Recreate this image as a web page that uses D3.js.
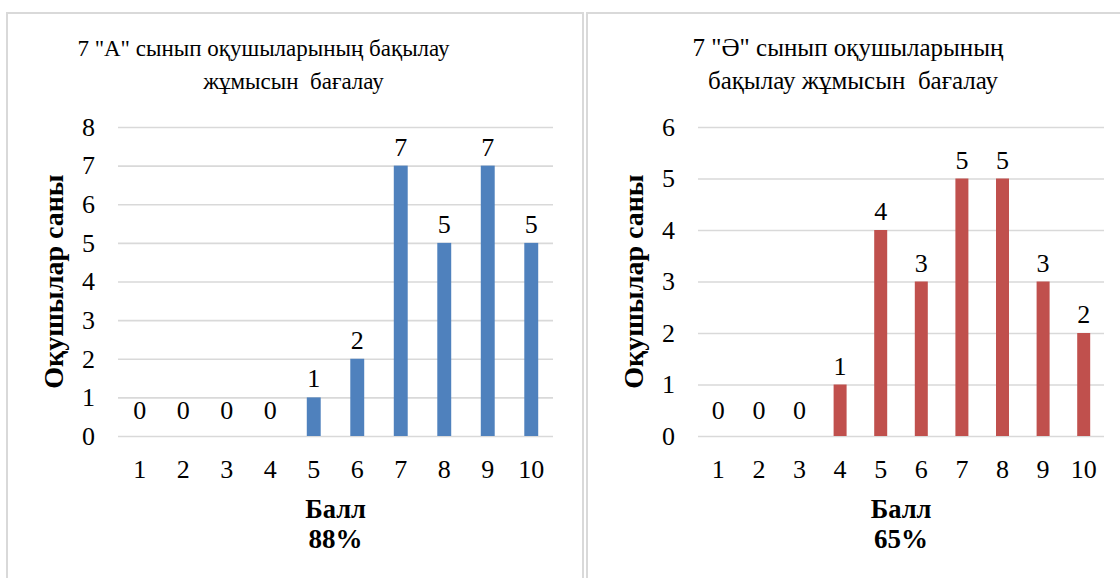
<!DOCTYPE html>
<html><head><meta charset="utf-8">
<script src="https://cdn.jsdelivr.net/npm/d3@7"></script>
<style>
html,body{margin:0;padding:0;background:#fff;}
svg{display:block;}
</style></head>
<body>
<svg id="chart" width="1120" height="578"></svg>
<script>
// ---- data ----
const categories = [1, 2, 3, 4, 5, 6, 7, 8, 9, 10];
const valuesA = [0, 0, 0, 0, 1, 2, 7, 5, 7, 5];
const valuesB = [0, 0, 0, 1, 4, 3, 5, 5, 3, 2];
const yTicksA = [0, 1, 2, 3, 4, 5, 6, 7, 8];
const yTicksB = [0, 1, 2, 3, 4, 5, 6];
const titleA = ['7 "A" сынып оқушыларының бақылау', 'жұмысын  бағалау'];
const titleB = ['7 "Ә" сынып оқушыларының', 'бақылау жұмысын  бағалау'];
const yAxisTitle = 'Оқушылар саны';
const xAxisTitle = 'Балл';
const percentA = '88%';
const percentB = '65%';

const FONT = 'Liberation Serif';
const TICK = 26;
const svg = d3.select('#chart');

const panels = [
  { frame: [7, 13, 576, 580], plot: [118, 127, 553, 436], values: valuesA, yTicks: yTicksA,
    title: titleA, titleX: [263.5, 293.5], titleSize: 23, yTitleX: 63, pct: percentA, color: '#4f81bd' },
  { frame: [587, 13, 560, 580], plot: [698, 127, 1104, 436], values: valuesB, yTicks: yTicksB,
    title: titleB, titleX: [848, 853], titleSize: 25, yTitleX: 643, pct: percentB, color: '#c0504d' }
];

panels.forEach(p => {
  const g = svg.append('g');
  g.append('rect')
    .attr('x', p.frame[0]).attr('y', p.frame[1])
    .attr('width', p.frame[2]).attr('height', p.frame[3])
    .attr('fill', '#fff').attr('stroke', '#d9d9d9').attr('stroke-width', 2);

  const [x0, y0, x1, y1] = p.plot;
  const x = d3.scaleBand().domain(categories).range([x0, x1]).paddingInner(0.68).paddingOuter(0.34);
  const y = d3.scaleLinear().domain([0, d3.max(p.yTicks)]).range([y1, y0]);

  // gridlines + y tick labels
  const ya = g.append('g').attr('transform', `translate(${x0},0)`)
    .call(d3.axisLeft(y).tickValues(p.yTicks).tickSize(-(x1 - x0)).tickPadding(23).tickFormat(d3.format('d')));
  ya.attr('font-family', FONT).attr('font-size', TICK);
  ya.select('.domain').remove();
  ya.selectAll('.tick line').attr('stroke', '#d9d9d9').attr('stroke-width', 1.6);
  ya.selectAll('.tick text').attr('fill', '#000');

  // x tick labels
  const xa = g.append('g').attr('transform', `translate(0,${y1})`)
    .call(d3.axisBottom(x).tickSize(0).tickPadding(24));
  xa.attr('font-family', FONT).attr('font-size', TICK);
  xa.select('.domain').remove();
  xa.selectAll('.tick text').attr('fill', '#000');

  // bars
  g.append('g').selectAll('rect').data(p.values).join('rect')
    .attr('x', (d, i) => x(categories[i]))
    .attr('width', x.bandwidth())
    .attr('y', d => y(d))
    .attr('height', d => y(0) - y(d))
    .attr('fill', p.color);

  // data labels
  g.append('g').attr('font-family', FONT).attr('font-size', TICK)
    .selectAll('text').data(p.values).join('text')
    .attr('x', (d, i) => x(categories[i]) + x.bandwidth() / 2)
    .attr('y', d => y(d) - (d === 0 ? 17 : 10))
    .attr('text-anchor', 'middle')
    .text(d => d);

  // title
  p.title.forEach((t, i) => {
    g.append('text').attr('x', p.titleX[i]).attr('y', 56 + i * 33)
      .attr('text-anchor', 'middle').attr('font-family', FONT).attr('font-size', p.titleSize)
      .attr('xml:space', 'preserve').style('white-space', 'pre').text(t);
  });

  // y axis title
  g.append('text')
    .attr('transform', `translate(${p.yTitleX},${(y0 + y1) / 2}) rotate(-90)`)
    .attr('text-anchor', 'middle').attr('font-family', FONT).attr('font-size', 28).attr('font-weight', 'bold')
    .text(yAxisTitle);

  // x axis title + percentage
  const cx = (x0 + x1) / 2;
  g.append('text').attr('x', cx).attr('y', 518).attr('text-anchor', 'middle')
    .attr('font-family', FONT).attr('font-size', 26.5).attr('font-weight', 'bold').text(xAxisTitle);
  g.append('text').attr('x', cx).attr('y', 548).attr('text-anchor', 'middle')
    .attr('font-family', FONT).attr('font-size', 27).attr('font-weight', 'bold').text(p.pct);
});
</script>
</body></html>
